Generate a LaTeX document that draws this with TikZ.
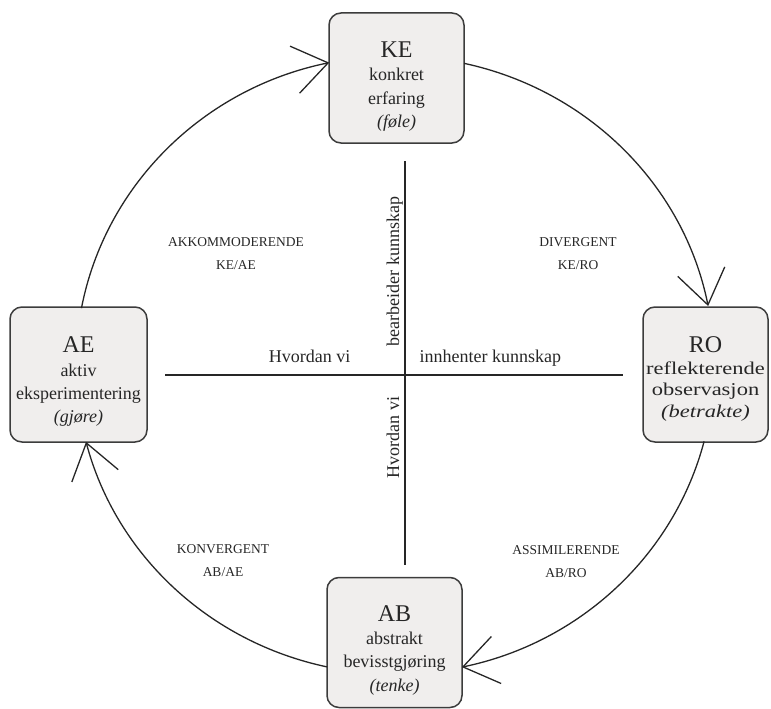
\documentclass[tikz,border=0pt]{standalone}
\usepackage{fontspec}
\setmainfont{Liberation Serif}
\newfontfamily\widefont[FakeStretch=1.25]{Liberation Serif}
\usetikzlibrary{arrows.meta,calc}

\definecolor{ink}{RGB}{38,38,38}
\definecolor{boxline}{RGB}{60,60,60}
\definecolor{boxfill}{RGB}{240,238,237}

\tikzset{every picture/.style={line width=1.3pt}}
\tikzset{
  stage/.style={draw=boxline, line width=1.5pt, fill=boxfill, rounded corners=12pt,
    minimum width=135pt, minimum height=130pt, inner sep=0pt},
  stagetext/.style={anchor=north, inner sep=0pt, align=center, text=ink,
    font=\fontsize{18}{23.3}\selectfont},
  quadrant/.style={align=center, text=ink, inner sep=0pt, font=\fontsize{13.5}{23}\selectfont},
  axislabel/.style={text=ink, inner sep=0pt, font=\fontsize{18}{22}\selectfont},
  axisline/.style={draw=ink, line width=1.2pt},
  cyc/.style={draw=ink, line width=1.3pt, -{Straight Barb[length=34pt,width=48pt,line width=1.3pt]}},
}
\newcommand{\bigtag}[1]{{\fontsize{24}{23.3}\selectfont #1}}

\begin{document}
\begin{tikzpicture}[x=1pt,y=1pt,yscale=-1,xscale=1]
	\useasboundingbox (0,0) rectangle (771,709);

	%Shape: Rounded boxes
	\node[stage] (ke) at (396.5,78) {};
	\node[stage, minimum width=125pt, minimum height=135pt] (ro) at (705.5,374.5) {};
	\node[stage] (ab) at (394.5,642.5) {};
	\node[stage, minimum width=137pt, minimum height=135pt] (ae) at (78.5,374.5) {};

	% Text Node
	\node[stagetext] (ke-t) at ($(ke.north)+(0,29)$) {\bigtag{KE}\\konkret\\erfaring\\\textit{(føle)}};
	\node[stagetext, font=\widefont\fontsize{18}{21.5}\selectfont] (ro-t) at ($(ro.north)+(0,30)$) {{\rmfamily\bigtag{RO}}\\reflekterende\\observasjon\\\textit{(betrakte)}};
	\node[stagetext] (ab-t) at ($(ab.north)+(0,28)$) {\bigtag{AB}\\abstrakt\\bevisstgjøring\\\textit{(tenke)}};
	\node[stagetext] (ae-t) at ($(ae.north)+(0,30)$) {\bigtag{AE}\\aktiv\\eksperimentering\\\textit{(gjøre)}};

	%Shape: Ellipse arcs with arrows
	\coordinate (o) at (395,365);
	\draw[cyc] ($(o)+(-77.5:319 and 309)$) arc[start angle=-77.5, end angle=-11, x radius=319, y radius=309];
	\draw[cyc] ($(o)+(14.3:319 and 309)$) arc[start angle=14.3, end angle=77.9, x radius=319, y radius=309];
	\draw[cyc] ($(o)+(102.3:319 and 309)$) arc[start angle=102.3, end angle=165.6, x radius=319, y radius=309];
	\draw[cyc] ($(o)+(190.6:319 and 309)$) arc[start angle=190.6, end angle=258.1, x radius=319, y radius=309];

	%Straight Lines
	\coordinate (w) at (165,375);
	\coordinate (e) at (623,375);
	\coordinate (n) at (405,161);
	\coordinate (s) at (405,565);
	\draw[axisline] (w) -- (e);
	\draw[axisline] (n) -- (s);

	% Text Node
	\node[axislabel, anchor=base east] (how-h) at (351,362) {Hvordan vi};
	\node[axislabel, anchor=base west] (gain) at (419,362) {innhenter kunnskap};
	\node[axislabel, rotate=90, anchor=base west] (work) at (399,347) {bearbeider kunnskap};
	\node[axislabel, rotate=90, anchor=base west] (how-v) at (399,479) {Hvordan vi};

	% Text Node
	\node[quadrant] (akk) at (236,254) {AKKOMMODERENDE\\KE/AE};
	\node[quadrant] (div) at (578,254) {DIVERGENT\\KE/RO};
	\node[quadrant] (konv) at (223,561) {KONVERGENT\\AB/AE};
	\node[quadrant] (ass) at (566,562) {ASSIMILERENDE\\AB/RO};

\end{tikzpicture}
\end{document}
